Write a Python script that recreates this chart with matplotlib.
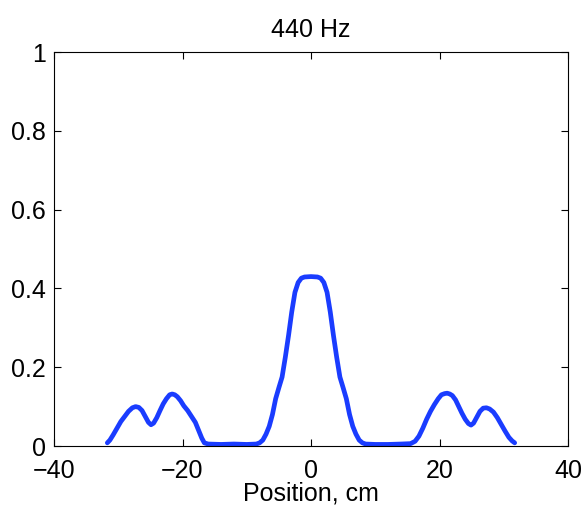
import matplotlib
matplotlib.use("Agg")
import matplotlib.pyplot as plt

# curve (position in cm, normalised amplitude)
position = [-31.7, -31.3, -30.8, -30.2, -29.6, -29.0, -28.4, -27.8, -27.3,
            -26.8, -26.3, -25.8, -25.3, -24.9, -24.5, -24.0, -23.5, -23.0,
            -22.5, -22.0, -21.6, -21.2, -20.8, -20.3, -19.8, -19.2, -18.6,
            -18.0, -17.5, -17.0, -16.6, -16.0, -14.0, -12.0, -10.0, -8.5,
            -8.0, -7.5, -7.0, -6.5, -6.0, -5.5, -5.0, -4.5, -4.0, -3.5, -3.0,
            -2.5, -2.0, -1.5, -1.0, 0.0, 1.0, 1.5, 2.0, 2.5, 3.0, 3.5, 4.0,
            4.5, 5.0, 5.5, 6.0, 6.5, 7.0, 7.5, 8.0, 8.5, 10.0, 12.0, 14.0,
            15.5, 16.2, 16.8, 17.4, 18.0, 18.6, 19.2, 19.8, 20.3, 20.8, 21.2,
            21.6, 22.0, 22.5, 23.0, 23.5, 24.0, 24.5, 24.9, 25.3, 25.8, 26.3,
            26.8, 27.3, 27.8, 28.4, 29.0, 29.6, 30.2, 30.8, 31.3, 31.7]
amplitude = [0.008, 0.015, 0.028, 0.045, 0.062, 0.075, 0.088, 0.097, 0.100,
             0.098, 0.090, 0.075, 0.060, 0.054, 0.058, 0.072, 0.090, 0.107,
             0.120, 0.130, 0.132, 0.130, 0.125, 0.115, 0.102, 0.090, 0.075,
             0.060, 0.040, 0.020, 0.008, 0.005, 0.004, 0.005, 0.004, 0.005,
             0.008, 0.015, 0.030, 0.050, 0.080, 0.120, 0.148, 0.175, 0.225,
             0.280, 0.340, 0.390, 0.415, 0.426, 0.429, 0.430, 0.429, 0.426,
             0.415, 0.390, 0.340, 0.280, 0.225, 0.175, 0.148, 0.120, 0.080,
             0.050, 0.030, 0.015, 0.008, 0.005, 0.004, 0.004, 0.005,
             0.006, 0.012, 0.025, 0.045, 0.068, 0.088, 0.105, 0.120, 0.130,
             0.133, 0.134, 0.132, 0.128, 0.117, 0.100, 0.083, 0.068, 0.057,
             0.053, 0.058, 0.073, 0.088, 0.096, 0.097, 0.094, 0.086, 0.072,
             0.055, 0.038, 0.022, 0.013, 0.008]

x_ticks = [-40, -20, 0, 20, 40]
y_ticks = [0, 0.2, 0.4, 0.6, 0.8, 1]
y_labels = ["0", "0.2", "0.4", "0.6", "0.8", "1"]

plt.rcParams['font.family'] = ['Liberation Sans', 'DejaVu Sans']

fig = plt.figure(figsize=(5.85, 5.14), dpi=100)
ax = fig.add_axes([54 / 585, 68 / 514, 514 / 585, 394 / 514])

ax.plot(position, amplitude, color='#1a3cff', lw=3.4, solid_joinstyle='round',
        solid_capstyle='round')

ax.set_xlim(-40, 40)
ax.set_ylim(0, 1)
ax.set_xticks(x_ticks)
ax.set_xticklabels([str(t).replace('-', '\u2212') for t in x_ticks])
ax.set_yticks(y_ticks)
ax.set_yticklabels(y_labels)
ax.tick_params(direction='in', length=5, width=0.8, top=True, right=True,
               labelsize=18)
ax.tick_params(axis='x', pad=9)
ax.tick_params(axis='y', pad=6)
for s in ax.spines.values():
    s.set_linewidth(0.8)

ax.set_title("440 Hz", fontsize=18, pad=11)
ax.set_xlabel("Position, cm", fontsize=18, labelpad=-1)

fig.savefig("out.png", dpi=100)
